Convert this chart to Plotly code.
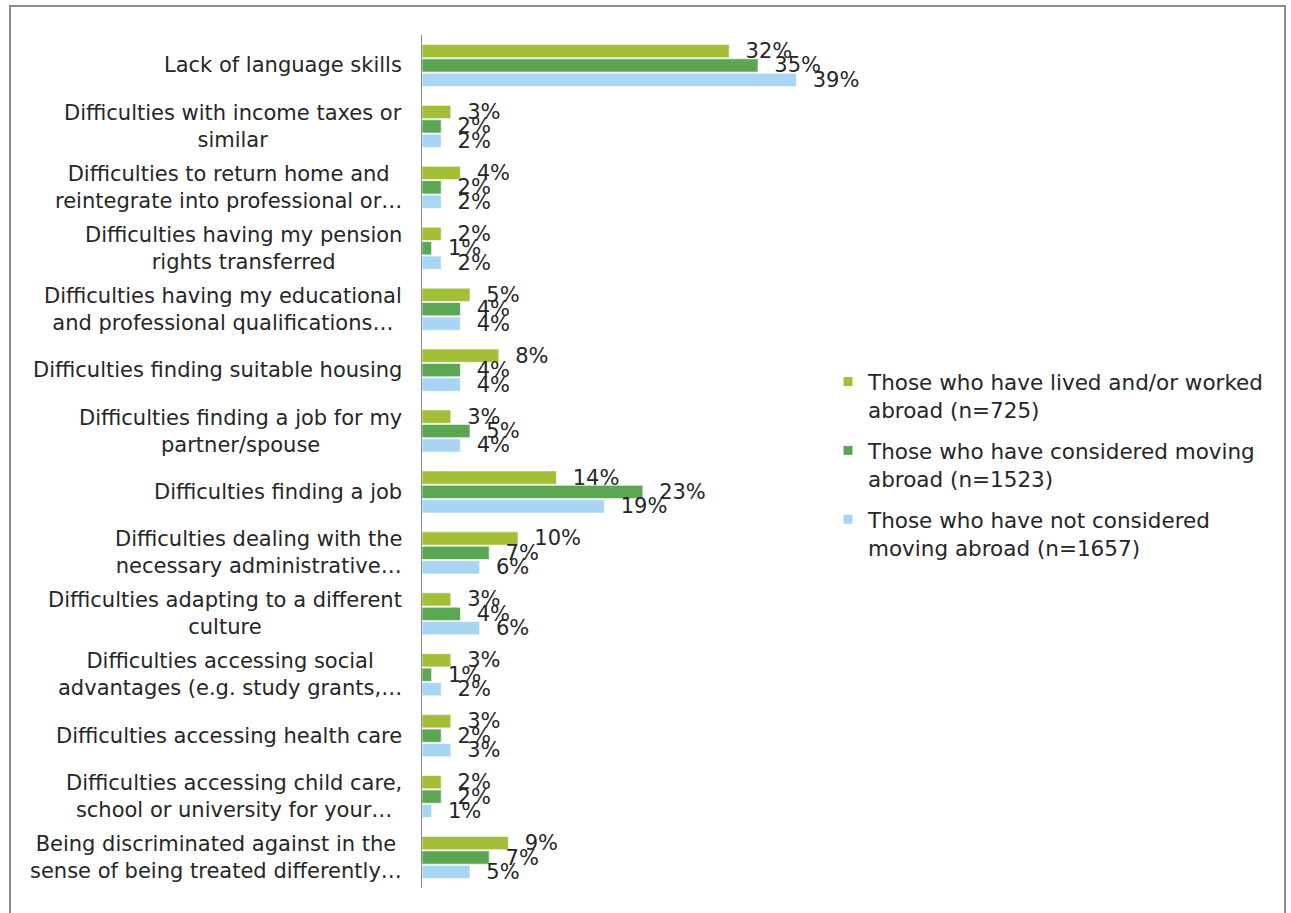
import plotly.graph_objects as go

# Obstacles to working abroad, share of respondents per group (%)
categories = [
    "Lack of language skills",
    "Difficulties with income taxes or<br>similar",
    "Difficulties to return home and<br>reintegrate into professional or…",
    "Difficulties having my pension<br>rights transferred",
    "Difficulties having my educational<br>and professional qualifications…",
    "Difficulties finding suitable housing",
    "Difficulties finding a job for my<br>partner/spouse",
    "Difficulties finding a job",
    "Difficulties dealing with the<br>necessary administrative…",
    "Difficulties adapting to a different<br>culture",
    "Difficulties accessing social<br>advantages (e.g. study grants,…",
    "Difficulties accessing health care",
    "Difficulties accessing child care,<br>school or university for your…",
    "Being discriminated against in the<br>sense of being treated differently…",
]
lived_abroad = [32, 3, 4, 2, 5, 8, 3, 14, 10, 3, 3, 3, 2, 9]
considered_moving = [35, 2, 2, 1, 4, 4, 5, 23, 7, 4, 1, 2, 2, 7]
not_considered = [39, 2, 2, 2, 4, 4, 4, 19, 6, 6, 2, 3, 1, 5]

series_names = [
    "Those who have lived and/or worked<br>abroad (n=725)",
    "Those who have considered moving<br>abroad (n=1523)",
    "Those who have not considered<br>moving abroad (n=1657)",
]
series_values = [lived_abroad, considered_moving, not_considered]
series_colors = ["#A3BE37", "#5BA653", "#A9D5F5"]

FONT = "DejaVu Sans, Verdana, sans-serif"
TEXT_COLOR = "#262626"

fig = go.Figure()

for name, vals, col in zip(series_names, series_values, series_colors):
    fig.add_trace(go.Bar(
        y=categories,
        x=vals,
        orientation="h",
        name=name,
        marker=dict(color=col, line=dict(color="rgba(255,255,255,0.6)", width=1)),
        texttemplate="\u00a0\u00a0%{x}%",
        textposition="outside",
        constraintext="none",
        cliponaxis=False,
        textfont=dict(family=FONT, size=21, color=TEXT_COLOR),
        showlegend=False,
        hoverinfo="skip",
    ))

# legend entries with small square swatches
for i, (name, col) in enumerate(zip(series_names, series_colors)):
    fig.add_trace(go.Scatter(
        x=[None], y=[None],
        mode="markers",
        marker=dict(symbol="square", size=9, color=col),
        name=name,
        legendgroup=f"g{i}",
        showlegend=True,
    ))

# category labels, centred line by line and right-aligned against the axis
for cat in categories:
    fig.add_annotation(
        x=0, xref="paper", y=cat, yref="y",
        text=cat, showarrow=False,
        xanchor="right", yanchor="middle", align="center",
        xshift=-18,
        font=dict(family=FONT, size=21, color=TEXT_COLOR),
    )

# outer frame
fig.add_shape(
    type="rect", xref="paper", yref="paper",
    x0=(10 - 422) / 384, x1=(1285 - 422) / 384,
    y0=-0.06, y1=(888 - 6) / 853,
    line=dict(color="#8C8C8C", width=2),
    fillcolor="rgba(0,0,0,0)", layer="below",
)

fig.update_layout(
    width=1291, height=913,
    margin=dict(l=422, r=485, t=35, b=25),
    paper_bgcolor="white", plot_bgcolor="white",
    barmode="group",
    bargap=0.29,
    bargroupgap=0.08,
    font=dict(family=FONT, size=21, color=TEXT_COLOR),
    xaxis=dict(range=[0, 40], visible=False, fixedrange=True),
    yaxis=dict(
        autorange="reversed",
        showticklabels=False,
        ticks="",
        showgrid=False,
        zeroline=False,
        showline=True,
        linecolor="#8C8C8C",
        linewidth=1,
        fixedrange=True,
    ),
    legend=dict(
        x=(828 - 422) / 384, xanchor="left",
        y=(888 - 361) / 853, yanchor="top",
        font=dict(family=FONT, size=21.5, color=TEXT_COLOR),
        tracegroupgap=10,
        itemwidth=30,
        valign="top",
        bgcolor="rgba(0,0,0,0)",
    ),
)

fig.write_html("out.html")
